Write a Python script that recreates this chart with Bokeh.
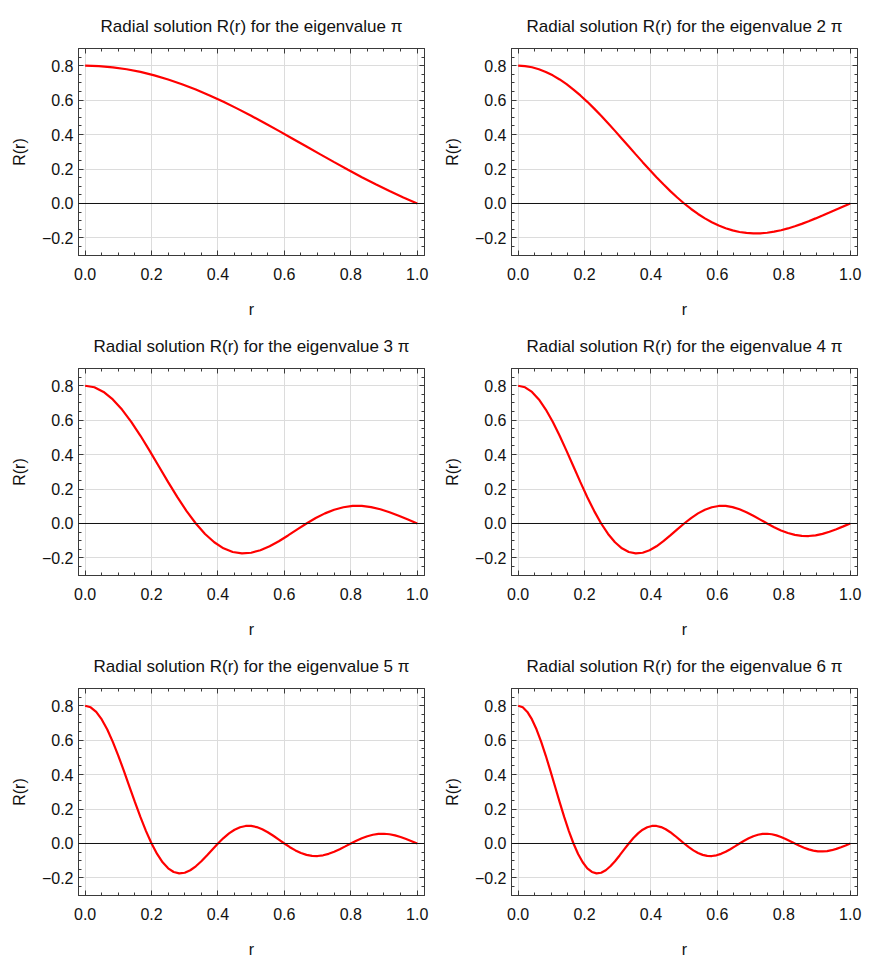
import numpy as np
from bokeh.plotting import figure
from bokeh.models import Range1d, FixedTicker, LinearAxis, Span, CustomJSTickFormatter
from bokeh.layouts import column, row
from bokeh.embed import file_html
from bokeh.resources import INLINE

# ---- data ----
eigen_labels = ["\u03c0", "2 \u03c0", "3 \u03c0", "4 \u03c0", "5 \u03c0", "6 \u03c0"]

R1 = [0.8, 0.7977, 0.7909, 0.7796, 0.7639, 0.7441, 0.7203, 0.6927, 0.6616, 0.6274, 0.5903, 0.5508,
      0.5093, 0.4661, 0.4217, 0.3764, 0.3308, 0.2852, 0.2401, 0.1958, 0.1528, 0.1114, 0.0719, 0.0347, 0.0]
R2 = [0.8, 0.7977, 0.7909, 0.7796, 0.7639, 0.7441, 0.7203, 0.6927, 0.6616, 0.6274, 0.5903, 0.5508,
      0.5093, 0.4661, 0.4217, 0.3764, 0.3308, 0.2852, 0.2401, 0.1958, 0.1528, 0.1114, 0.0719, 0.0347, 0.0,
      -0.0319, -0.0608, -0.0866, -0.1091, -0.1283, -0.1441, -0.1564, -0.1654, -0.1711, -0.1736, -0.1731,
      -0.1698, -0.1638, -0.1554, -0.1448, -0.1323, -0.1183, -0.1029, -0.0865, -0.0694, -0.0520, -0.0344,
      -0.0170, 0.0]
R3 = [0.8, 0.7909, 0.7639, 0.7203, 0.6616, 0.5903, 0.5093, 0.4217, 0.3308, 0.2401, 0.1528, 0.0719, 0.0,
      -0.0608, -0.1091, -0.1441, -0.1654, -0.1736, -0.1698, -0.1554, -0.1323, -0.1029, -0.0694, -0.0344, 0.0,
      0.0316, 0.0588, 0.0800, 0.0945, 0.1018, 0.1019, 0.0952, 0.0827, 0.0655, 0.0449, 0.0226, 0.0]
R4 = [0.8, 0.7909, 0.7639, 0.7203, 0.6616, 0.5903, 0.5093, 0.4217, 0.3308, 0.2401, 0.1528, 0.0719, 0.0,
      -0.0608, -0.1091, -0.1441, -0.1654, -0.1736, -0.1698, -0.1554, -0.1323, -0.1029, -0.0694, -0.0344, 0.0,
      0.0316, 0.0588, 0.0800, 0.0945, 0.1018, 0.1019, 0.0952, 0.0827, 0.0655, 0.0449, 0.0226, 0.0,
      -0.0214, -0.0402, -0.0554, -0.0662, -0.0720, -0.0728, -0.0686, -0.0601, -0.0480, -0.0332, -0.0168, 0.0]
R5 = [0.8, 0.7909, 0.7639, 0.7203, 0.6616, 0.5903, 0.5093, 0.4217, 0.3308, 0.2401, 0.1528, 0.0719, 0.0,
      -0.0608, -0.1091, -0.1441, -0.1654, -0.1736, -0.1698, -0.1554, -0.1323, -0.1029, -0.0694, -0.0344, 0.0,
      0.0316, 0.0588, 0.0800, 0.0945, 0.1018, 0.1019, 0.0952, 0.0827, 0.0655, 0.0449, 0.0226, 0.0,
      -0.0214, -0.0402, -0.0554, -0.0662, -0.0720, -0.0728, -0.0686, -0.0601, -0.0480, -0.0332, -0.0168, 0.0,
      0.0161, 0.0306, 0.0424, 0.0509, 0.0557, 0.0566, 0.0537, 0.0473, 0.0379, 0.0263, 0.0134, 0.0]
R6 = [0.8, 0.7909, 0.7639, 0.7203, 0.6616, 0.5903, 0.5093, 0.4217, 0.3308, 0.2401, 0.1528, 0.0719, 0.0,
      -0.0608, -0.1091, -0.1441, -0.1654, -0.1736, -0.1698, -0.1554, -0.1323, -0.1029, -0.0694, -0.0344, 0.0,
      0.0316, 0.0588, 0.0800, 0.0945, 0.1018, 0.1019, 0.0952, 0.0827, 0.0655, 0.0449, 0.0226, 0.0,
      -0.0214, -0.0402, -0.0554, -0.0662, -0.0720, -0.0728, -0.0686, -0.0601, -0.0480, -0.0332, -0.0168, 0.0,
      0.0161, 0.0306, 0.0424, 0.0509, 0.0557, 0.0566, 0.0537, 0.0473, 0.0379, 0.0263, 0.0134, 0.0,
      -0.0130, -0.0246, -0.0343, -0.0413, -0.0454, -0.0463, -0.0441, -0.0389, -0.0313, -0.0218, -0.0111, 0.0]
series = [R1, R2, R3, R4, R5, R6]

x_ticks = [0.0, 0.2, 0.4, 0.6, 0.8, 1.0]
y_ticks = [-0.2, 0.0, 0.2, 0.4, 0.6, 0.8]

# ---- styling ----
FONT = "Liberation Sans"
FRAME = "#3a3a3a"
x_minor = list(np.round(np.arange(-0.05, 1.0501, 0.05), 4))
y_minor = list(np.round(np.arange(-0.30, 0.9001, 0.05), 4))

fmt = CustomJSTickFormatter(code="return tick.toFixed(1).replace('-', '\\u2212');")
blank = CustomJSTickFormatter(code="return '';")

COL_W = [434, 428]
LEFT = [78, 77]
FRAME_W = 346
FIG_H = 320
TOP = 48
FRAME_H = 212


def style_axis(ax, show_labels):
    ax.axis_line_color = FRAME
    ax.major_tick_line_color = FRAME
    ax.minor_tick_line_color = FRAME
    ax.major_tick_in = 5
    ax.major_tick_out = 0
    ax.minor_tick_in = 3
    ax.minor_tick_out = 0
    if show_labels:
        ax.formatter = fmt
        ax.major_label_text_font = FONT
        ax.major_label_text_font_size = "16px"
        ax.major_label_text_color = "#111111"
        ax.axis_label_text_font = FONT
        ax.axis_label_text_font_size = "16px"
        ax.axis_label_text_font_style = "normal"
        ax.axis_label_text_color = "#111111"
    else:
        ax.formatter = blank
        ax.major_label_standoff = 0


def make(i):
    R = series[i]
    col = i % 2
    w = COL_W[col]
    left = LEFT[col]
    right = w - left - FRAME_W
    bottom = FIG_H - TOP - FRAME_H
    p = figure(width=w, height=FIG_H, output_backend="svg", toolbar_location=None,
               x_range=Range1d(-0.02, 1.022), y_range=Range1d(-0.302, 0.9),
               min_border_left=left, min_border_right=right,
               min_border_top=TOP, min_border_bottom=bottom,
               title="Radial solution R(r) for the eigenvalue " + eigen_labels[i])
    p.title.align = "center"
    p.title.text_font = FONT
    p.title.text_font_size = "17px"
    p.title.text_font_style = "normal"
    p.title.text_color = "#111111"
    p.title.standoff = 26

    xt = FixedTicker(ticks=x_ticks, minor_ticks=x_minor)
    yt = FixedTicker(ticks=y_ticks, minor_ticks=y_minor)
    p.xaxis.ticker = xt
    p.yaxis.ticker = yt
    p.xaxis.axis_label = "r"
    p.yaxis.axis_label = "R(r)"
    style_axis(p.xaxis[0], True)
    style_axis(p.yaxis[0], True)
    p.xaxis.major_label_standoff = 12
    p.xaxis.axis_label_standoff = 18
    p.yaxis.major_label_standoff = 5
    p.yaxis.axis_label_standoff = 11

    top_ax = LinearAxis(ticker=xt)
    right_ax = LinearAxis(ticker=yt)
    style_axis(top_ax, False)
    style_axis(right_ax, False)
    p.add_layout(top_ax, "above")
    p.add_layout(right_ax, "right")

    p.xgrid.ticker = xt
    p.ygrid.ticker = yt
    p.xgrid.grid_line_color = "#dcdcdc"
    p.ygrid.grid_line_color = "#dcdcdc"
    p.outline_line_color = FRAME
    p.background_fill_color = "white"
    p.border_fill_color = "white"

    p.add_layout(Span(location=0, dimension="width", line_color="#111111", line_width=1))

    r = np.linspace(0.0, 1.0, len(R))
    p.line(r, R, line_color="#ff0000", line_width=2.2)
    return p


figs = [make(i) for i in range(6)]
layout = column(row(figs[0], figs[1]), row(figs[2], figs[3]), row(figs[4], figs[5]))

open("out.html", "w", encoding="utf-8").write(file_html(layout, INLINE))
